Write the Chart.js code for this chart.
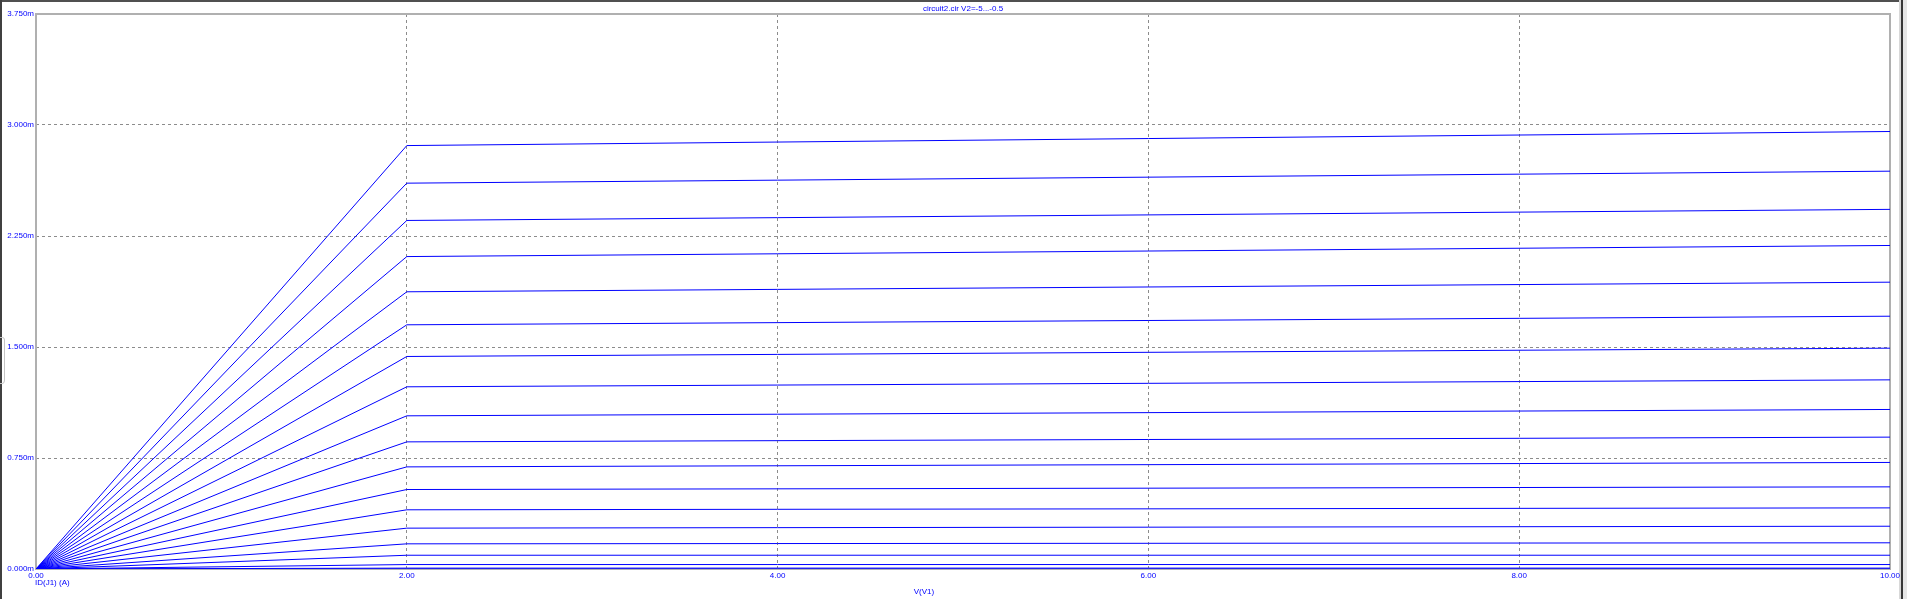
<!DOCTYPE html>
<html>
<head>
<meta charset="utf-8">
<script src="https://cdn.jsdelivr.net/npm/chart.js@4/dist/chart.umd.min.js"></script>
<style>
html,body{margin:0;padding:0;background:#fff;}
canvas{display:block;}
</style>
</head>
<body>
<canvas id="c" width="1907" height="599"></canvas>
<script>
// Sweep V(V1) points (V)
const xValues = [0, 2, 10];
// Parameter sweep V2 (V), from -5 to -0.5
const v2Values = [-5.0,-4.75,-4.5,-4.25,-4.0,-3.75,-3.5,-3.25,-3.0,-2.75,-2.5,-2.25,-2.0,-1.75,-1.5,-1.25,-1.0,-0.75,-0.5];
// ID(J1) in mA at V(V1)=0, 2, 10
const idAt0 = [0,0,0,0,0,0,0,0,0,0,0,0,0,0,0,0,0,0,0];
const idAt2 = [0.000,0.006,0.030,0.093,0.170,0.276,0.400,0.537,0.690,0.859,1.035,1.231,1.436,1.650,1.873,2.111,2.355,2.607,2.861];
const idAt10 = [0.000,0.006,0.030,0.093,0.177,0.289,0.413,0.555,0.720,0.891,1.078,1.278,1.492,1.708,1.938,2.186,2.430,2.688,2.956];
const xTicks = [0, 2, 4, 6, 8, 10];
const yTicks = [0, 0.75, 1.5, 2.25, 3.0, 3.75];
const titleText = 'circuit2.cir V2=-5...-0.5';
const yAxisTitle = 'ID(J1) (A)';
const xAxisTitle = 'V(V1)';

const FONT = 'Liberation Sans, Arial, sans-serif';
const datasets = v2Values.map((v, i) => ({
  label: 'V2=' + v,
  data: [
    {x: xValues[0], y: idAt0[i]},
    {x: xValues[1], y: idAt2[i]},
    {x: xValues[2], y: idAt10[i]}
  ],
  borderColor: '#0000ff',
  borderWidth: 1,
  pointRadius: 0,
  tension: 0,
  fill: false
}));

const deco = {
  id: 'deco',
  beforeDraw(chart) {
    const ctx = chart.ctx;
    ctx.save();
    ctx.fillStyle = '#fff';
    ctx.fillRect(0, 0, chart.width, chart.height);
    // window chrome
    ctx.fillStyle = '#505050';
    ctx.fillRect(0, 0, chart.width, 2);
    ctx.fillStyle = '#404040';
    ctx.fillRect(0, 0, 2, chart.height);
    ctx.fillStyle = '#d8d8d8';
    ctx.fillRect(1899, 0, 2, chart.height);
    ctx.fillStyle = '#383838';
    ctx.fillRect(1901, 0, 2, chart.height);
    ctx.fillStyle = '#e6e6e6';
    ctx.fillRect(1903, 0, 4, chart.height);
    ctx.strokeStyle = '#c4c4c4';
    ctx.lineWidth = 1;
    ctx.beginPath();
    ctx.moveTo(0, 337.5);
    ctx.lineTo(2.5, 337.5);
    ctx.quadraticCurveTo(4.5, 337.5, 4.5, 340);
    ctx.lineTo(4.5, 380);
    ctx.quadraticCurveTo(4.5, 383.5, 2.5, 383.5);
    ctx.lineTo(0, 383.5);
    ctx.stroke();
    ctx.restore();
  },
  beforeDatasetsDraw(chart) {
    const ctx = chart.ctx, a = chart.chartArea;
    ctx.save();
    ctx.strokeStyle = '#b0b0b0';
    ctx.lineWidth = 2;
    ctx.strokeRect(a.left, a.top, a.right - a.left, a.bottom - a.top);
    ctx.restore();
  },
  afterDraw(chart) {
    const ctx = chart.ctx, a = chart.chartArea;
    ctx.save();
    ctx.fillStyle = '#0000ff';
    ctx.font = '8px ' + FONT;
    ctx.textBaseline = 'middle';
    ctx.textAlign = 'center';
    ctx.fillText(titleText, (a.left + a.right) / 2, 9);
    ctx.fillText(xAxisTitle, 924, 592);
    ctx.textAlign = 'left';
    ctx.fillText(yAxisTitle, 35, 583);
    ctx.restore();
  }
};

const gridColor = (ctx) => {
  const v = ctx.tick ? ctx.tick.value : null;
  return (v === 0 || v === 10 || v === 3.75) ? 'rgba(0,0,0,0)' : '#8c8c8c';
};

new Chart(document.getElementById('c'), {
  type: 'line',
  data: { datasets },
  plugins: [deco],
  options: {
    responsive: false,
    animation: false,
    events: [],
    layout: { padding: { left: 0, top: 14, right: 17, bottom: 0 } },
    plugins: { legend: { display: false }, tooltip: { enabled: false }, title: { display: false } },
    scales: {
      x: {
        type: 'linear',
        min: 0, max: 10,
        afterFit(s) { s.height = 30; },
        afterBuildTicks(s) { s.ticks = xTicks.map(v => ({value: v})); },
        border: { display: false, dash: [3, 3] },
        grid: { color: gridColor, lineWidth: 1, drawTicks: false },
        ticks: {
          color: '#0000ff', font: { family: FONT, size: 8 }, padding: 2, maxRotation: 0,
          autoSkip: false,
          callback: (v) => Number(v).toFixed(2)
        }
      },
      y: {
        type: 'linear',
        min: 0, max: 3.75,
        afterFit(s) { s.width = 36; },
        afterBuildTicks(s) { s.ticks = yTicks.map(v => ({value: v})); },
        border: { display: false, dash: [3, 3] },
        grid: { color: gridColor, lineWidth: 1, drawTicks: false },
        ticks: {
          color: '#0000ff', font: { family: FONT, size: 8 }, padding: 2,
          autoSkip: false,
          callback: (v) => Number(v).toFixed(3) + 'm'
        }
      }
    }
  }
});
</script>
</body>
</html>
